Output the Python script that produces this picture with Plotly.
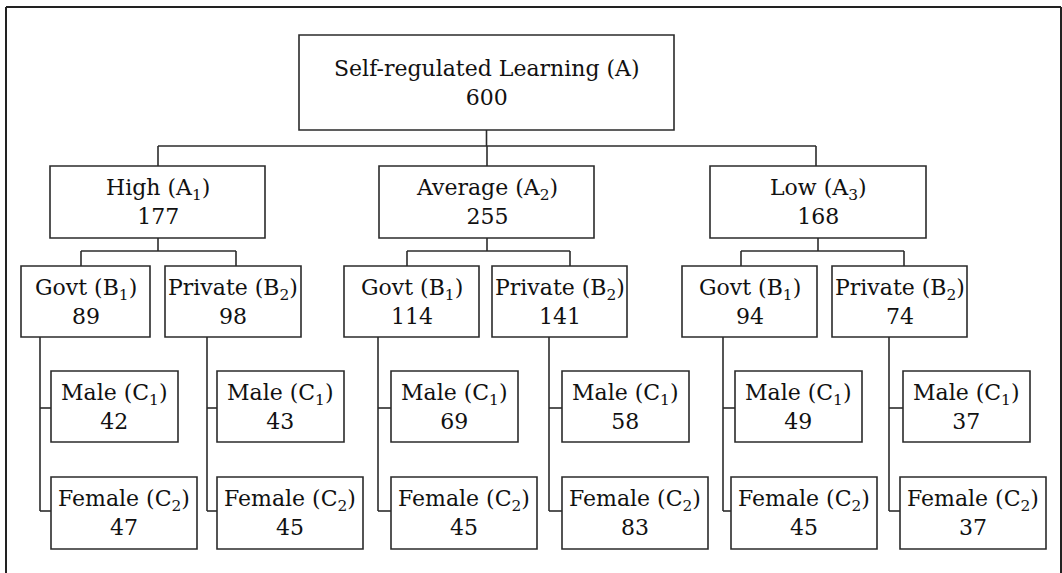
import plotly.graph_objects as go

# ---------------- data ----------------
root_label = "Self-regulated Learning (A)"
root_n = 600
level_labels = ["High (A<sub>1</sub>)", "Average (A<sub>2</sub>)", "Low (A<sub>3</sub>)"]
level_n = [177, 255, 168]
school_labels = ["Govt (B<sub>1</sub>)", "Private (B<sub>2</sub>)"]
school_n = [[89, 98], [114, 141], [94, 74]]
gender_labels = ["Male (C<sub>1</sub>)", "Female (C<sub>2</sub>)"]
male_n = [[42, 43], [69, 58], [49, 37]]
female_n = [[47, 45], [45, 83], [45, 37]]

# ---------------- layout geometry (page pixels used as data units) ----------------
W, H = 1062, 573
root_box = (299, 674, 35, 130)
root_bus_y = 146
l1_y = (166, 238)
l1_x = [(50, 265), (379, 594), (710, 926)]
l1_stem = [158, 487, 816]
l1_down = [158, 487, 818]
l2_bus_y = 251
l2_y = (266, 337)
l2_x = [[(21, 150), (165, 301)], [(344, 479), (492, 627)], [(682, 817), (832, 967)]]
l2_stem = [[81, 236], [407, 570], [741, 904]]
l3_vline = [[40, 207], [378, 549], [723, 889]]
male_y = (371, 442)
female_y = (477, 549)
male_left = [[51, 217], [391, 562], [735, 903]]
female_left = [[51, 217], [391, 562], [731, 900]]
male_w = 127
female_w = 146
male_stub_y = 408
female_stub_y = 511

LINE = dict(color="#2b2b2b", width=1.6)
FONT = dict(family="DejaVu Serif", size=22, color="#111111")

shapes = []
annotations = []


def box(x0, x1, y0, y1, text):
    shapes.append(dict(type="rect", xref="x", yref="y", x0=x0, x1=x1, y0=y0, y1=y1,
                       line=LINE, fillcolor="white", layer="above"))
    annotations.append(dict(x=(x0 + x1) / 2, y=(y0 + y1) / 2, xref="x", yref="y",
                            text=text, showarrow=False, font=FONT,
                            xanchor="center", yanchor="middle", align="center"))


def line(x0, y0, x1, y1, **kw):
    shapes.append(dict(type="line", xref="x", yref="y", x0=x0, y0=y0, x1=x1, y1=y1,
                       line=kw.get("ln", LINE), layer="below"))


# outer frame (bottom edge runs off the page)
frame = dict(color="#222222", width=2)
line(6, 7, 1061, 7, ln=frame)
line(6, 7, 6, H + 5, ln=frame)
line(1061, 7, 1061, H + 5, ln=frame)

# root
box(*root_box, f"{root_label}<br>{root_n}")
line((root_box[0] + root_box[1]) / 2, root_box[3], (root_box[0] + root_box[1]) / 2, root_bus_y)
line(l1_stem[0], root_bus_y, l1_stem[-1], root_bus_y)

for i, lab in enumerate(level_labels):
    x0, x1 = l1_x[i]
    line(l1_stem[i], root_bus_y, l1_stem[i], l1_y[0])
    box(x0, x1, l1_y[0], l1_y[1], f"{lab}<br>{level_n[i]}")
    # to level 2
    line(l1_down[i], l1_y[1], l1_down[i], l2_bus_y)
    line(l2_stem[i][0], l2_bus_y, l2_stem[i][1], l2_bus_y)
    for j, slab in enumerate(school_labels):
        sx0, sx1 = l2_x[i][j]
        line(l2_stem[i][j], l2_bus_y, l2_stem[i][j], l2_y[0])
        box(sx0, sx1, l2_y[0], l2_y[1], f"{slab}<br>{school_n[i][j]}")
        v = l3_vline[i][j]
        line(v, l2_y[1], v, female_stub_y)
        line(v, male_stub_y, male_left[i][j], male_stub_y)
        line(v, female_stub_y, female_left[i][j], female_stub_y)
        ml = male_left[i][j]
        box(ml, ml + male_w, male_y[0], male_y[1], f"{gender_labels[0]}<br>{male_n[i][j]}")
        fl = female_left[i][j]
        box(fl, fl + female_w, female_y[0], female_y[1], f"{gender_labels[1]}<br>{female_n[i][j]}")

fig = go.Figure()
fig.add_trace(go.Scatter(x=[0, W], y=[0, H], mode="markers",
                         marker=dict(opacity=0), hoverinfo="skip", showlegend=False))
fig.update_layout(
    width=W, height=H,
    margin=dict(l=0, r=0, t=0, b=0),
    paper_bgcolor="white", plot_bgcolor="white",
    xaxis=dict(range=[0, W], visible=False, fixedrange=True),
    yaxis=dict(range=[H, 0], visible=False, fixedrange=True),
    shapes=shapes, annotations=annotations, showlegend=False,
)
fig.write_html(
    "out.html",
    config={"displayModeBar": False},
    post_script="document.body.style.margin='0';document.body.style.overflow='hidden';",
)
